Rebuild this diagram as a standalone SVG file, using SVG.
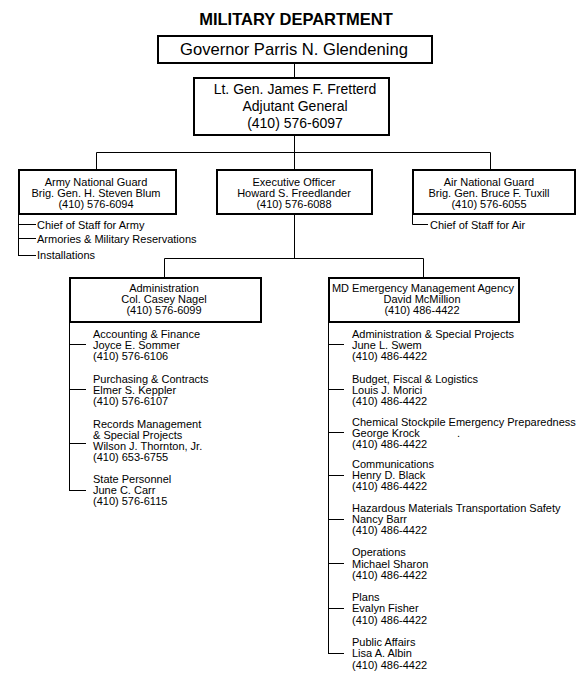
<svg xmlns="http://www.w3.org/2000/svg" width="588" height="685" viewBox="0 0 588 685">
<style>
text{font-family:"Liberation Sans",Arial,sans-serif;fill:#000;font-size:11px}
.c{text-anchor:middle}
.title{font-size:16.5px;font-weight:bold}
.gov{font-size:16.6px}
.adj{font-size:14px}
.box{fill:#fff;stroke:#000;stroke-width:2}
.ln{fill:none;stroke:#000;stroke-width:1}
</style>
<rect width="588" height="685" fill="#fff"/>
<text class="title c" x="296" y="25">MILITARY DEPARTMENT</text>
<g id="connectors">
<path class="ln" d="M294.5 63V78M294.5 135V169M96.5 169V152.5H490.5V169M294.5 214V258.5M164.5 277V258.5H423.5V277"/>
<path class="ln" d="M18.5 214V255.5M18 224.5H36M18 238.5H36M18 255.5H36"/>
<path class="ln" d="M412.5 214V224.5H428"/>
<path class="ln" d="M69.5 322V490.5M69 344.5H86M69 389.5H86M69 443.5H86M69 490.5H86"/>
<path class="ln" d="M328.5 322V653.5M328 344.5H344M328 389.5H344M328 432.5H344M328 475.5H344M328 519.5H344M328 563.5H344M328 608.5H344M328 653.5H344"/>
</g>
<g id="governor">
<rect class="box" x="158" y="36" width="274" height="27"/>
<text class="gov c" x="294" y="55">Governor Parris N. Glendening</text>
</g>
<g id="adjutant">
<rect class="box" x="194" y="78" width="195" height="57"/>
<text class="adj c" x="295" y="94">Lt. Gen. James F. Fretterd</text>
<text class="adj c" x="295" y="111">Adjutant General</text>
<text class="adj c" x="295" y="127.5">(410) 576-6097</text>
</g>
<g id="army">
<rect class="box" x="19" y="170" width="157" height="44"/>
<text class="c" x="96" y="186">Army National Guard</text>
<text class="c" x="96" y="197">Brig. Gen. H. Steven Blum</text>
<text class="c" x="96" y="208">(410) 576-6094</text>
</g>
<g id="army-subs">
<text x="37" y="229">Chief of Staff for Army</text>
<text x="37" y="243">Armories &amp; Military Reservations</text>
<text x="37" y="259">Installations</text>
</g>
<g id="executive">
<rect class="box" x="217" y="170" width="155" height="44"/>
<text class="c" x="294" y="186">Executive Officer</text>
<text class="c" x="294" y="197">Howard S. Freedlander</text>
<text class="c" x="294" y="208">(410) 576-6088</text>
</g>
<g id="air">
<rect class="box" x="413" y="170" width="162" height="44"/>
<text class="c" x="489" y="186">Air National Guard</text>
<text class="c" x="489" y="197">Brig. Gen.  Bruce F. Tuxill</text>
<text class="c" x="489" y="208">(410) 576-6055</text>
</g>
<g id="air-subs">
<text x="430" y="229">Chief of Staff for Air</text>
</g>
<g id="administration">
<rect class="box" x="70" y="278" width="191" height="44"/>
<text class="c" x="164" y="292">Administration</text>
<text class="c" x="164" y="303">Col. Casey Nagel</text>
<text class="c" x="164" y="314">(410) 576-6099</text>
</g>
<g id="admin-subs">
<text x="93" y="338">Accounting &amp; Finance</text>
<text x="93" y="349">Joyce E. Sommer</text>
<text x="93" y="360">(410) 576-6106</text>
<text x="93" y="383">Purchasing &amp; Contracts</text>
<text x="93" y="394">Elmer S. Keppler</text>
<text x="93" y="405">(410) 576-6107</text>
<text x="93" y="427.5">Records Management</text>
<text x="93" y="438.5">&amp; Special Projects</text>
<text x="93" y="450">Wilson J. Thornton, Jr.</text>
<text x="93" y="461">(410) 653-6755</text>
<text x="93" y="483">State Personnel</text>
<text x="93" y="494">June C. Carr</text>
<text x="93" y="505">(410) 576-6115</text>
</g>
<g id="mema">
<rect class="box" x="329" y="278" width="190" height="44"/>
<text class="c" x="423" y="292">MD Emergency Management Agency</text>
<text class="c" x="422" y="303">David McMillion</text>
<text class="c" x="422" y="314">(410) 486-4422</text>
</g>
<g id="mema-subs">
<text x="352" y="338">Administration &amp; Special Projects</text>
<text x="352" y="349">June L. Swem</text>
<text x="352" y="360">(410) 486-4422</text>
<text x="352" y="383">Budget, Fiscal &amp; Logistics</text>
<text x="352" y="394">Louis J. Morici</text>
<text x="352" y="405">(410) 486-4422</text>
<text x="352" y="426">Chemical Stockpile Emergency Preparedness</text>
<text x="352" y="437">George Krock<tspan x="457">.</tspan></text>
<text x="352" y="448">(410) 486-4422</text>
<text x="352" y="468">Communications</text>
<text x="352" y="479">Henry D. Black</text>
<text x="352" y="490">(410) 486-4422</text>
<text x="352" y="512">Hazardous Materials Transportation Safety</text>
<text x="352" y="523">Nancy Barr</text>
<text x="352" y="534">(410) 486-4422</text>
<text x="352" y="556">Operations</text>
<text x="352" y="568">Michael Sharon</text>
<text x="352" y="579">(410) 486-4422</text>
<text x="352" y="601">Plans</text>
<text x="352" y="612">Evalyn Fisher</text>
<text x="352" y="624">(410) 486-4422</text>
<text x="352" y="646">Public Affairs</text>
<text x="352" y="657">Lisa A. Albin</text>
<text x="352" y="669">(410) 486-4422</text>
</g>
</svg>
